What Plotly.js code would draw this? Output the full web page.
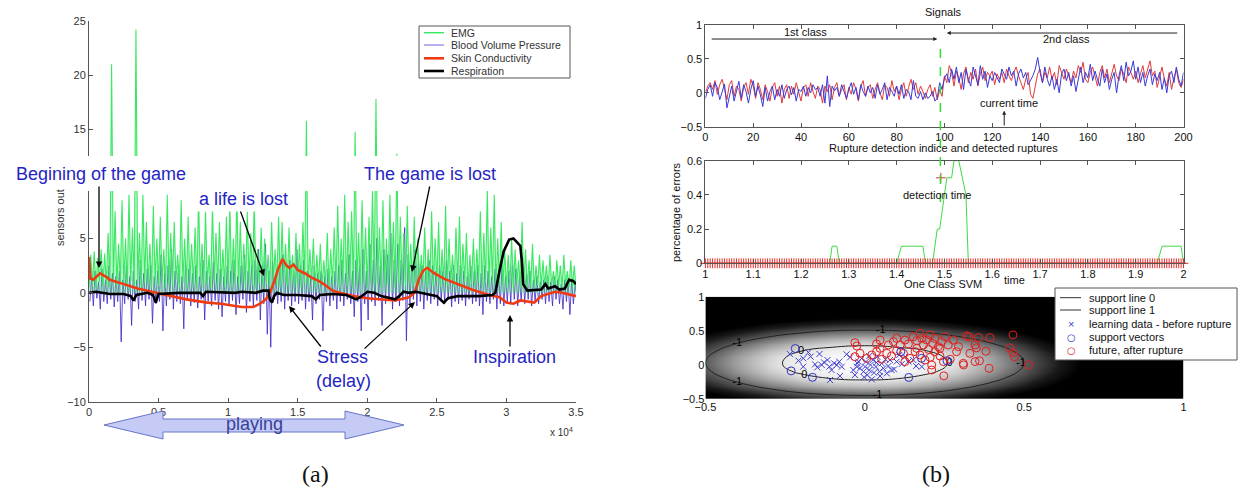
<!DOCTYPE html>
<html>
<head>
<meta charset="utf-8">
<script src="https://cdn.plot.ly/plotly-3.0.1.min.js"></script>
<style>html,body{margin:0;padding:0;background:#fff;}#chart{width:1243px;height:491px;}</style>
</head>
<body>
<div id="chart"></div>
<script>
// ---------------- (a) physiological sensors ----------------
const emgStart = 0, emgStep = 125;
const emgValues = [
0.5,3.5,0.8,3.8,0.4,3.2,1.0,4.0,0.6,3.6,0.8,5.5,0.5,21.0,0.9,7.5,0.6,4.5,1.0,8.5,
0.7,5.0,0.5,9.0,1.1,6.0,0.6,24.2,0.8,5.5,0.4,9.0,1.0,6.5,0.7,4.5,0.5,8.0,0.9,5.0,
0.6,7.0,1.0,4.0,0.5,9.0,0.8,5.5,0.6,6.5,1.2,3.5,0.5,8.5,0.9,5.0,0.4,7.0,1.0,4.5,
0.7,6.0,0.5,9.0,1.0,4.5,0.6,7.5,0.8,3.5,0.5,8.0,1.1,5.5,0.6,6.5,0.9,4.0,0.5,7.0,
0.8,8.0,0.5,5.0,1.0,9.0,0.6,6.5,0.9,4.5,0.5,7.5,1.0,5.5,0.7,8.5,0.4,4.0,0.9,6.0,
0.6,5.0,0.9,3.5,0.5,6.5,1.0,4.0,0.7,7.0,0.5,6.5,1.0,4.5,0.6,6.0,0.9,3.5,0.5,5.5,
0.8,4.5,0.5,6.5,0.9,15.8,0.6,4.0,1.0,5.0,0.5,3.5,0.8,4.5,0.6,3.0,0.9,5.5,0.5,4.0,
0.7,6.0,1.0,8.0,0.5,5.0,0.9,9.0,0.6,6.5,1.0,7.5,0.5,14.8,0.8,5.5,0.6,8.5,1.0,6.0,
0.5,7.0,0.9,9.5,0.6,17.8,1.0,6.0,0.5,8.5,0.8,5.0,0.6,9.0,1.0,6.5,0.5,12.8,0.9,7.0,
0.8,5.5,0.6,8.0,1.0,4.5,0.5,7.0,0.9,5.0,0.6,3.5,1.0,6.0,0.5,4.0,0.8,7.5,0.6,5.0,
1.0,6.5,0.5,4.0,0.8,8.0,0.6,5.0,1.0,3.5,0.5,6.0,0.9,7.0,0.6,4.5,1.0,5.5,0.5,3.5,
0.8,5.0,0.6,4.0,1.0,7.5,0.5,5.5,0.9,9.5,0.6,6.0,1.0,9.0,0.5,5.0,0.8,6.5,0.6,4.0,
0.5,3.5,0.8,5.0,0.4,4.0,0.9,3.0,0.5,6.5,0.8,4.0,0.5,3.0,0.6,4.5,0.4,2.5,0.7,3.5,
0.5,3.0,0.6,2.5,0.4,3.5,0.7,2.0,0.5,3.0,0.6,2.5,0.4,3.5,0.7,2.0,0.5,3.0,0.6,2.5,
0.5];
const bvpStart = 62.5, bvpStep = 125;
const bvpValues = [
-0.8,1.5,-1.2,2.0,-0.5,1.0,-1.5,2.2,-0.8,1.2,-1.0,2.5,-0.6,1.8,-1.3,1.5,-0.8,2.0,-4.5,1.2,
-1.0,2.5,-0.6,1.5,-3.0,2.0,-0.8,1.2,-1.5,3.0,-0.7,1.8,-1.2,2.2,-0.6,2.5,-2.8,1.5,-1.0,2.0,
-0.8,3.5,-3.5,1.8,-1.2,2.5,-0.6,4.0,-1.5,2.0,-0.8,2.5,-1.0,1.5,-3.3,3.0,-0.7,2.2,-1.2,1.8,
-0.9,2.5,-1.4,1.5,-0.6,3.0,-2.5,2.0,-0.8,1.5,-1.2,2.8,-0.7,1.8,-1.5,2.2,-2.2,1.5,-0.8,2.5,
-1.2,2.0,-0.7,3.0,-2.0,1.5,-1.0,2.5,-0.6,3.5,-1.8,2.0,-0.8,2.5,-1.3,3.0,-0.7,4.0,-2.5,2.5,
-1.0,4.5,-3.8,2.0,-5.0,3.0,-0.6,1.5,-1.0,2.0,-0.8,3.5,-1.5,2.5,-0.7,3.0,-1.2,2.0,-0.8,4.0,
-1.0,2.5,-0.7,3.0,-1.5,2.0,-0.8,1.5,-2.5,2.5,-1.0,1.8,-0.6,2.0,-3.5,1.5,-0.8,2.2,-1.2,1.5,
-0.7,2.0,-1.5,2.5,-0.8,3.0,-1.2,1.8,-0.6,3.5,-1.0,2.0,-2.2,3.0,-0.8,2.5,-3.5,4.0,-1.0,2.0,
-2.5,4.5,-0.8,3.0,-1.2,5.0,-0.7,2.5,-3.0,4.0,-1.0,3.5,-0.6,5.5,-1.5,3.0,-0.8,4.5,-1.2,3.0,
-0.7,6.0,-4.4,3.5,-1.0,2.5,-0.6,4.0,-1.2,3.0,-0.8,2.5,-1.5,2.0,-0.7,3.0,-1.0,2.5,-0.6,2.0,
-1.2,2.5,-0.7,2.0,-1.0,3.0,-0.6,2.0,-1.3,2.5,-0.8,1.8,-1.0,2.5,-0.7,2.0,-1.2,1.5,-0.6,2.5,
-1.0,2.0,-0.8,2.5,-1.2,1.8,-2.0,2.5,-0.8,2.0,-1.0,1.5,-0.6,2.2,-1.5,1.8,-1.0,2.5,-1.2,1.5,
-0.8,2.0,-1.0,3.0,-0.6,2.2,-1.2,1.5,-0.8,2.5,-1.0,1.8,-0.6,2.0,-1.2,1.2,-0.8,1.5,-1.0,1.0,
-0.6,1.2,-1.0,1.5,-0.8,1.0,-1.2,1.5,-0.6,1.2,-1.0,0.8,-1.5,1.2,-0.8,1.0,-2.0,1.2,-1.0,0.8,
-0.5];
const scTime = [0,100,300,800,1200,1500,2500,3500,4500,5500,7000,8500,9500,10500,11000,11800,12300,12700,13000,13300,13600,13900,14200,14400,14700,15000,15500,16000,16500,17000,17500,18000,19000,20000,21000,22000,23000,23400,23700,24000,24300,24800,25500,26500,27500,28500,29500,30000,30500,31000,31500,32000,32500,33000,33500,34000,35000];
const scValues = [3.3,1.3,1.2,1.8,1.5,1.2,0.8,0.4,0.1,-0.2,-0.6,-0.9,-1.0,-1.2,-1.3,-1.3,-1.0,-0.6,0.0,1.0,2.2,3.1,2.5,2.3,2.6,2.1,1.8,1.4,1.1,0.7,0.2,0.0,-0.3,-0.5,-0.6,-0.7,-0.4,0.0,1.2,2.0,2.3,1.8,1.3,0.8,0.3,-0.1,-0.4,-0.9,-1.0,-0.7,-0.8,-0.9,-0.3,-0.1,0.1,0.0,-0.3];
const respTime = [0,500,1500,2500,3000,3200,3400,4200,4600,4800,5000,6500,8000,8200,8400,10500,11000,12000,12500,12900,13000,13150,13300,13500,14000,15000,16000,16300,16600,17500,18500,19200,19500,20000,20500,21000,22000,22300,22600,23000,23500,24500,25000,25500,25800,26500,28000,29000,29200,29500,29800,30200,30500,30800,31000,31100,31200,31500,32500,32800,33000,33500,33800,34200,34500,34800,35000];
const respValues = [0,0.1,-0.1,-0.1,-0.3,-0.7,-0.2,0,-0.2,-0.9,-0.1,0,0,-0.3,0.1,0,0.1,0,0.2,0.2,-0.6,-0.9,-0.3,0,-0.2,-0.2,-0.3,-0.6,-0.2,-0.1,-0.2,-0.6,-0.4,0.1,0,-0.3,-0.6,-0.3,0.1,0,0.1,-0.2,-0.3,-0.9,-0.5,-0.3,-0.3,-0.2,0,2.0,3.8,4.9,5.0,4.6,4.3,3.0,0.8,0.2,0.3,0.8,0.4,0.6,0.3,0.4,1.2,1.1,0.8];
const aXTicks = [0,5000,10000,15000,20000,25000,30000,35000];
const aXTickText = ['0','0.5','1','1.5','2','2.5','3','3.5'];
const aYTicks = [-10,-5,0,5,15,20,25];
const aLegend = ['EMG','Blood Volume Pressure','Skin Conductivity','Respiration'];

// ---------------- (b) top: signals ----------------
const sigBlue = [
-0.08,0.05,0.12,-0.05,0.15,0.08,-0.1,0.02,0.13,-0.22,
-0.05,0.1,-0.12,0.05,0.17,-0.08,0.12,0.02,-0.15,0.05,
0.18,-0.05,0.1,-0.03,-0.2,0.08,-0.12,0.02,0.1,-0.1,
0.05,-0.05,0.12,-0.08,0.05,0.1,-0.03,0.08,-0.12,0.05,
0.02,0.1,-0.05,0.08,0.0,0.12,0.05,0.08,-0.05,0.12,
-0.15,0.25,-0.2,0.1,0.03,0.08,-0.05,0.12,0.02,-0.08,
0.05,0.15,-0.02,0.08,-0.1,0.12,0.02,-0.05,0.1,0.0,
0.08,-0.08,0.12,-0.02,0.05,0.15,-0.1,0.08,0.02,-0.05,
0.1,-0.02,0.12,-0.08,0.05,0.02,-0.1,0.18,-0.05,-0.08,
0.02,-0.1,0.0,-0.08,-0.05,0.02,-0.12,-0.08,0.15,0.05,
0.22,0.28,0.15,0.35,0.2,0.38,0.15,0.3,0.05,0.35,
0.2,0.1,0.38,0.25,0.12,0.4,0.2,0.32,0.08,0.25,
0.18,0.3,0.22,0.15,0.35,0.28,0.2,0.38,0.25,0.32,
0.1,0.28,0.35,0.22,0.3,0.12,0.18,0.25,0.35,0.52,
0.3,0.15,0.38,0.2,0.1,0.25,0.05,0.2,0.0,0.28,
0.35,0.18,0.3,0.1,0.25,0.02,0.2,0.38,0.15,0.3,
0.22,0.42,0.18,0.32,0.2,0.1,0.35,0.15,0.28,0.05,
0.2,0.3,0.0,0.25,0.4,0.18,0.45,0.25,0.32,0.47,
0.2,0.38,0.15,0.3,0.1,0.25,0.35,0.12,0.28,0.18,
0.3,0.05,0.22,0.0,0.25,0.32,0.15,0.38,0.2,0.1,
0.3];
const sigRed = [
0.0,0.1,0.15,0.05,0.18,-0.02,0.12,0.2,0.05,-0.1,
0.12,0.18,-0.05,0.1,0.05,-0.12,0.08,0.15,-0.02,0.2,
0.1,-0.08,0.15,0.05,-0.1,0.12,0.02,-0.12,0.08,0.15,
-0.05,0.1,-0.15,0.05,0.12,-0.08,0.1,-0.02,0.15,0.0,
-0.12,0.08,0.12,-0.05,0.15,0.02,-0.08,0.1,0.05,-0.15,
0.1,0.02,0.12,-0.1,0.08,0.15,-0.05,0.05,0.12,-0.1,
0.08,-0.02,0.15,0.05,-0.12,0.1,0.18,-0.05,0.08,0.12,
-0.08,0.05,0.15,0.0,-0.1,0.12,0.08,-0.05,0.18,0.02,
0.1,-0.1,0.05,0.15,-0.05,0.08,0.2,0.05,0.15,-0.02,
0.1,0.02,-0.08,0.05,0.12,-0.05,0.08,-0.1,0.05,-0.05,
0.25,0.15,0.4,0.3,0.1,0.32,0.22,0.05,0.28,0.38,
0.15,0.3,0.2,0.35,0.1,0.28,0.38,0.18,0.3,0.25,
0.32,0.12,0.28,0.2,0.3,0.15,0.35,0.25,0.18,0.3,
0.38,0.25,0.15,0.05,0.2,0.3,-0.02,-0.08,0.1,0.28,
0.35,0.15,0.3,0.22,0.38,0.2,0.3,0.12,0.4,0.3,
0.2,0.35,0.25,0.15,0.32,0.22,0.4,0.3,0.45,0.2,
0.15,0.3,0.38,0.25,0.1,0.3,0.4,0.22,0.35,0.15,
0.3,0.42,0.25,0.18,0.35,0.28,0.15,0.38,0.3,0.2,
0.32,0.15,0.28,0.4,0.22,0.35,0.47,0.25,0.32,0.08,
0.25,0.38,0.2,0.1,0.3,0.05,0.22,0.35,0.15,0.08,
0.2];
const ruptureIndex = 98.3;

// ---------------- (b) middle: rupture detection ----------------
const errTime = [1,1.26,1.265,1.275,1.28,1.40,1.41,1.455,1.46,1.475,1.485,1.49,1.50,1.505,1.515,1.52,1.53,1.545,1.55,1.945,1.955,1.995,2.0];
const errValues = [0,0,0.1,0.1,0,0,0.1,0.1,0,0,0.2,0.2,0.4,0.5,0.5,0.6,0.6,0.4,0,0,0.1,0.1,0];
const ruptStart = 1, ruptStep = 0.005;
const ruptFlags = [0,0,0,0,0,0,0,0,0,0,0,0,0,0,0,0,0,0,0,0,0,0,0,0,0,0,0,0,0,0,0,0,0,0,0,0,0,0,0,0,0,0,0,0,0,0,0,0,0,0,0,0,0,0,0,0,0,0,0,0,0,0,0,0,0,0,0,0,0,0,0,0,0,0,0,0,0,0,0,0,0,0,0,0,0,0,0,0,0,0,0,0,0,0,0,0,0,0,0,0,0,0,0,0,0,0,0,0,0,0,0,0,0,0,0,0,0,0,0,0,0,0,0,0,0,0,0,0,0,0,0,0,0,0,0,0,0,0,0,0,0,0,0,0,0,0,0,0,0,0,0,0,0,0,0,0,0,0,0,0,0,0,0,0,0,0,0,0,0,0,0,0,0,0,0,0,0,0,0,0,0,0,0,0,0,0,0,0,0,0,0,0,0,0,0,0,0,0,0,0,0];
const detTime = [1.4925], detValue = [0.5];

// ---------------- (b) bottom: one class SVM ----------------
const svmGridX = [-0.5,-0.4,-0.3,-0.2,-0.1,0,0.1,0.2,0.3,0.4,0.5,0.6,0.7,0.8,0.9,1.0];
const svmGridY = [-0.5,-0.4,-0.3,-0.2,-0.1,0,0.1,0.2,0.3,0.4,0.5,0.6,0.7,0.8,0.9,1.0];
const svmZ = [
[-2.69,-2.19,-1.80,-1.52,-1.36,-1.30,-1.36,-1.52,-1.80,-2.19,-2.69,-3.30,-4,-4,-4,-4],
[-2.12,-1.62,-1.23,-0.95,-0.78,-0.73,-0.78,-0.95,-1.23,-1.62,-2.12,-2.73,-3.45,-4,-4,-4],
[-1.66,-1.16,-0.77,-0.49,-0.32,-0.27,-0.32,-0.49,-0.77,-1.16,-1.66,-2.27,-2.99,-3.83,-4,-4],
[-1.32,-0.82,-0.43,-0.15,0.01,0.07,0.01,-0.15,-0.43,-0.82,-1.32,-1.93,-2.65,-3.49,-4,-4],
[-1.10,-0.60,-0.21,0.07,0.23,0.29,0.23,0.07,-0.21,-0.60,-1.10,-1.71,-2.43,-3.27,-4,-4],
[-1.01,-0.51,-0.12,0.16,0.32,0.38,0.32,0.16,-0.12,-0.51,-1.01,-1.62,-2.34,-3.18,-4,-4],
[-1.03,-0.53,-0.14,0.14,0.30,0.36,0.30,0.14,-0.14,-0.53,-1.03,-1.64,-2.36,-3.20,-4,-4],
[-1.17,-0.67,-0.28,0.00,0.16,0.22,0.16,0.00,-0.28,-0.67,-1.17,-1.78,-2.50,-3.34,-4,-4],
[-1.44,-0.94,-0.55,-0.27,-0.11,-0.05,-0.11,-0.27,-0.55,-0.94,-1.44,-2.05,-2.77,-3.61,-4,-4],
[-1.83,-1.33,-0.94,-0.66,-0.50,-0.44,-0.50,-0.66,-0.94,-1.33,-1.83,-2.44,-3.16,-4,-4,-4],
[-2.33,-1.83,-1.44,-1.16,-0.99,-0.94,-0.99,-1.16,-1.44,-1.83,-2.33,-2.94,-3.66,-4,-4,-4],
[-2.96,-2.46,-2.07,-1.79,-1.62,-1.57,-1.62,-1.79,-2.07,-2.46,-2.96,-3.57,-4,-4,-4,-4],
[-3.71,-3.21,-2.82,-2.54,-2.37,-2.32,-2.37,-2.54,-2.82,-3.21,-3.71,-4,-4,-4,-4,-4],
[-4,-4,-3.69,-3.41,-3.24,-3.19,-3.24,-3.41,-3.69,-4,-4,-4,-4,-4,-4,-4],
[-4,-4,-4,-4,-4,-4,-4,-4,-4,-4,-4,-4,-4,-4,-4,-4],
[-4,-4,-4,-4,-4,-4,-4,-4,-4,-4,-4,-4,-4,-4,-4,-4]];
// contour level labels: [x, y, text]
const svmLabelX = [-0.40,-0.40,0.05,0.04,0.49,-0.19,-0.20,0.266];
const svmLabelY = [0.318,-0.258,0.508,-0.448,0.03,-0.147,0.207,0.03];
const svmLabelText = ['-1','-1','-1','-1','-1','0','0','0'];
const learnX = [-0.235,-0.208,-0.193,-0.177,-0.170,-0.156,-0.142,-0.135,-0.128,-0.117,-0.111,-0.104,-0.096,-0.088,-0.080,-0.072,-0.057,-0.046,-0.036,-0.031,-0.023,-0.015,-0.010,-0.004,0.001,0.004,0.008,0.014,0.018,0.025,0.029,0.035,0.039,0.046,0.053,0.058,0.065,0.069,0.074,0.084,0.092,0.100,0.108,0.116,0.127,0.137,0.152,0.161,0.179,-0.109,-0.078,-0.149,-0.193,-0.020,-0.002,0.022,0.048,0.079,0.014,0.037,-0.025];
const learnY = [0.160,0.062,0.096,0.184,0.121,0.008,0.160,-0.001,0.038,0.072,-0.026,-0.075,0.023,-0.001,0.048,-0.026,0.155,0.111,-0.075,-0.148,0.023,-0.050,0.096,-0.099,-0.026,0.048,-0.148,-0.075,-0.001,0.072,-0.114,-0.026,0.121,-0.099,0.023,-0.050,0.082,-0.124,-0.016,-0.075,-0.065,0.048,0.145,0.013,0.121,0.048,0.072,-0.016,-0.026,-0.221,-0.163,-0.036,-0.026,0.048,-0.182,-0.212,-0.163,0.072,0.131,0.033,-0.026];
const svX = [-0.218,-0.231,-0.164,0.138,0.258,0.113,0.178];
const svY = [0.240,-0.088,-0.182,-0.184,0.060,0.192,0.096];
const futureX = [-0.031,-0.025,0.037,0.048,0.074,0.090,0.100,0.111,0.126,0.137,0.152,0.163,0.173,0.179,0.184,0.194,0.205,0.213,0.220,0.231,0.241,0.252,0.262,0.278,0.294,0.320,0.346,-0.031,-0.015,0.006,0.022,0.037,0.053,0.069,0.084,0.100,0.121,0.126,0.142,0.158,0.173,0.189,0.205,0.210,0.220,0.236,0.247,0.268,0.309,0.346,0.210,0.288,0.330,0.048,0.163,0.200,0.236,0.327,0.357,0.393,0.465,0.455,0.465,0.470,0.514,0.350,0.380,0.310,0.360,0.390,0.248];
const futureY = [0.326,0.277,0.307,0.365,0.292,0.341,0.390,0.292,0.365,0.307,0.414,0.355,0.463,0.390,0.292,0.365,0.439,0.316,0.390,0.267,0.341,0.414,0.292,0.365,0.267,0.424,0.292,0.121,0.170,0.096,0.145,0.194,0.082,0.170,0.131,0.209,0.170,0.048,0.096,0.194,0.145,0.072,0.111,-0.001,0.194,0.131,0.048,0.082,0.023,0.048,-0.075,0.194,0.170,0.243,0.243,0.228,0.243,0.410,0.400,0.400,0.440,0.250,0.180,0.120,0.000,0.250,0.200,0.000,0.060,-0.050,-0.160];
const bLegend = ['support line 0','support line 1','learning data - before rupture','support vectors','future, after rupture'];

// ---------------- layout helpers ----------------
const W = 1243, H = 491;
const px = x => x / W;
const py = y => 1 - y / H;
const FONT = 'Liberation Sans, Arial, Helvetica, sans-serif';
const BLUE_TXT = '#2424c4';

const traces = [
  {type:'scatter', mode:'lines', name:aLegend[1], x0:bvpStart, dx:bvpStep, y:bvpValues, xaxis:'x', yaxis:'y', line:{color:'#3b26c4', width:0.8}},
  {type:'scatter', mode:'lines', name:aLegend[0], x0:emgStart, dx:emgStep, y:emgValues, xaxis:'x', yaxis:'y', line:{color:'#3be863', width:1.1}, fill:'tozeroy', fillcolor:'rgba(70,232,110,0.35)'},
  {type:'scatter', mode:'lines', name:aLegend[2], x:scTime, y:scValues, xaxis:'x', yaxis:'y', line:{color:'#f03a12', width:2.6}},
  {type:'scatter', mode:'lines', name:aLegend[3], x:respTime, y:respValues, xaxis:'x', yaxis:'y', line:{color:'#000000', width:2.6}},

  {type:'scatter', mode:'lines', name:'signal 2', y:sigRed, xaxis:'x2', yaxis:'y2', line:{color:'#e03a3a', width:1}},
  {type:'scatter', mode:'lines', name:'signal 1', y:sigBlue, xaxis:'x2', yaxis:'y2', line:{color:'#3a3ad8', width:1}},

  {type:'scatter', mode:'lines', name:'percentage of errors', x:errTime, y:errValues, xaxis:'x3', yaxis:'y3', line:{color:'#44d844', width:1}, cliponaxis:false},
  {type:'scatter', mode:'markers', name:'detected ruptures', x0:ruptStart, dx:ruptStep, y:ruptFlags, xaxis:'x3', yaxis:'y3', cliponaxis:false,
    marker:{symbol:'cross-thin', size:7, color:'#e03030', line:{color:'#e03030', width:1}}},
  {type:'scatter', mode:'markers', name:'detection', x:detTime, y:detValue, xaxis:'x3', yaxis:'y3',
    marker:{symbol:'cross-thin', size:7, color:'#e03030', line:{color:'#e03030', width:1}}},

  {type:'contour', x:svmGridX, y:svmGridY, z:svmZ, xaxis:'x4', yaxis:'y4', showscale:false,
    zmin:-2.2, zmax:0.4,
    colorscale:[[0,'#000000'],[0.2,'#1a1a1a'],[0.46,'#5e5e5e'],[0.7,'#b4b4b4'],[0.85,'#e8e8e8'],[1,'#ffffff']],
    contours:{start:-1, end:0, size:1, coloring:'heatmap', showlabels:false},
    line:{color:'#222', width:1, smoothing:1.3}, hoverinfo:'skip'},
  {type:'scatter', mode:'text', name:'levels', x:svmLabelX, y:svmLabelY, text:svmLabelText, xaxis:'x4', yaxis:'y4',
    textfont:{family:FONT, size:11, color:'#000'}, textposition:'middle center'},
  {type:'scatter', mode:'markers', name:bLegend[2], x:learnX, y:learnY, xaxis:'x4', yaxis:'y4',
    marker:{symbol:'x-thin-open', size:6, color:'#4040d0', line:{color:'#4040d0', width:1}}},
  {type:'scatter', mode:'markers', name:bLegend[4], x:futureX, y:futureY, xaxis:'x4', yaxis:'y4',
    marker:{symbol:'circle-open', size:8, color:'#e02020', line:{color:'#e02020', width:1}}},
  {type:'scatter', mode:'markers', name:bLegend[3], x:svX, y:svY, xaxis:'x4', yaxis:'y4',
    marker:{symbol:'circle-open', size:8, color:'#3030c0', line:{color:'#3030c0', width:1}}}
];

const rightX = [px(705.4), px(1183.5)];
const tickFont = {family:FONT, size:11, color:'#111'};
const boxAxis = {showline:true, linecolor:'#555', linewidth:1, mirror:'ticks', ticks:'inside', ticklen:4, tickcolor:'#555', showgrid:false, zeroline:false, tickfont:tickFont};

const layout = {
  width:W, height:H, margin:{l:0,r:0,t:0,b:0}, paper_bgcolor:'#fff', plot_bgcolor:'#fff', showlegend:false,
  font:{family:FONT, size:11, color:'#111'},
  xaxis:{domain:[px(89), px(576)], range:[0,35000], tickvals:aXTicks, ticktext:aXTickText, showline:true, linecolor:'#555', ticks:'inside', ticklen:4, tickcolor:'#555', showgrid:false, zeroline:false, tickfont:{family:FONT, size:11, color:'#333'}},
  yaxis:{domain:[py(401.7), py(20.7)], range:[-10,25], tickvals:aYTicks, showline:true, linecolor:'#555', ticks:'inside', ticklen:4, tickcolor:'#555', showgrid:false, zeroline:false, tickfont:{family:FONT, size:11, color:'#333'}},

  xaxis2:Object.assign({domain:rightX, range:[0,200], dtick:20, anchor:'y2'}, boxAxis),
  yaxis2:Object.assign({domain:[py(127), py(24.7)], range:[-0.5,1], tickvals:[-0.5,0,0.5,1], anchor:'x2'}, boxAxis),
  xaxis3:Object.assign({domain:rightX, range:[1,2], dtick:0.1, anchor:'y3'}, boxAxis),
  yaxis3:Object.assign({domain:[py(263.3), py(160.7)], range:[0,0.6], tickvals:[0,0.2,0.4,0.6], anchor:'x3'}, boxAxis),
  xaxis4:{domain:rightX, range:[-0.5,1], tickvals:[-0.5,0,0.5,1], anchor:'y4', showline:false, showgrid:false, zeroline:false, ticks:'', tickfont:tickFont},
  yaxis4:{domain:[py(399), py(296.7)], range:[-0.5,1], tickvals:[-0.5,0,0.5,1], anchor:'x4', showline:false, showgrid:false, zeroline:false, ticks:'', tickfont:tickFont},
  shapes:[], annotations:[]
};

const S = layout.shapes, A = layout.annotations;
const T = (x,y,t,f,extra)=>A.push(Object.assign({xref:'paper', yref:'paper', x:px(x), y:py(y), text:t, showarrow:false, xanchor:'center', yanchor:'middle', font:f}, extra||{}));
const AR = (hx,hy,tx,ty)=>A.push({xref:'paper', yref:'paper', x:px(hx), y:py(hy), ax:tx-hx, ay:ty-hy, text:'', showarrow:true, arrowhead:2, arrowsize:1, arrowwidth:1.3, arrowcolor:'#000'});

// white band behind the big labels of (a)
S.push({type:'rect', xref:'paper', yref:'paper', x0:0, x1:px(580), y0:py(191), y1:py(156), fillcolor:'#fff', line:{width:0}, layer:'above'});
// legend (a)
S.push({type:'rect', xref:'paper', yref:'paper', x0:px(419), x1:px(570), y0:py(78), y1:py(26), fillcolor:'#fff', line:{color:'#555', width:1}, layer:'above'});
const aLegCol = ['#3be863','#7a5ad8','#f03a12','#000'], aLegW = [1.5,1,2.6,2.6], aLegY = [32.7,45,58.3,71];
aLegend.forEach((t,i)=>{
  S.push({type:'line', xref:'paper', yref:'paper', x0:px(424), x1:px(444), y0:py(aLegY[i]), y1:py(aLegY[i]), line:{color:aLegCol[i], width:aLegW[i]}, layer:'above'});
  T(449, aLegY[i], t, {family:FONT, size:10.5, color:'#333'}, {xanchor:'left'});
});
// playing double arrow
const pp = (x,y)=>px(x)+','+py(y);
S.push({type:'path', xref:'paper', yref:'paper', layer:'above',
  path:'M'+pp(104,425)+' L'+pp(163,411)+' L'+pp(163,419)+' L'+pp(345,419)+' L'+pp(345,411)+' L'+pp(404,425)+' L'+pp(345,439)+' L'+pp(345,432)+' L'+pp(163,432)+' L'+pp(163,439)+' Z',
  fillcolor:'#c6cbf6', line:{color:'#6676c8', width:1}});
// rupture dashed line across (b) top & middle
S.push({type:'line', xref:'x2', yref:'paper', x0:ruptureIndex, x1:ruptureIndex, y0:py(202), y1:py(47), line:{color:'#33dd33', width:1.5, dash:'dash'}, layer:'above'});
// legend (b)
S.push({type:'rect', xref:'paper', yref:'paper', x0:px(1055), x1:px(1237), y0:py(360), y1:py(288), fillcolor:'#fff', line:{color:'#555', width:1}, layer:'above'});
const bLegY = [297.7,310,323.5,337,350];
[0,1].forEach(i=>S.push({type:'line', xref:'paper', yref:'paper', x0:px(1060), x1:px(1081), y0:py(bLegY[i]), y1:py(bLegY[i]), line:{color:'#333', width:1}, layer:'above'}));
T(1071, bLegY[2], '×', {family:FONT, size:11, color:'#4040d0'});
T(1071, bLegY[3], '○', {family:'DejaVu Sans', size:10, color:'#3030c0'});
T(1071, bLegY[4], '○', {family:'DejaVu Sans', size:10, color:'#e02020'});
bLegend.forEach((t,i)=>T(1087, bLegY[i], t, {family:FONT, size:11, color:'#111'}, {xanchor:'left'}));

// (a) texts and arrows
const big = {family:FONT, size:18, color:BLUE_TXT};
T(101,174,'Begining of the game',big);
T(243,199,'a life is lost',big,{bgcolor:'#fff', borderpad:2});
T(430,174,'The game is lost',big);
T(342,357,'Stress',big);
T(343,381,'(delay)',big);
T(514,357,'Inspiration',big);
AR(99,268,99,185);
AR(264,276,240,210);
AR(412,272,430,185);
AR(289,306,322,348);
AR(415,302,363,350);
AR(510,315,510,348);
T(254,424,'playing',{family:FONT, size:18, color:'#36409a'});
T(561,432,'x 10<sup>4</sup>',{family:FONT, size:10, color:'#333'});
T(60,218,'sensors out',{family:FONT, size:11, color:'#333'},{textangle:-90});
T(315,474,'(a)',{family:'Liberation Serif, DejaVu Serif, serif', size:24, color:'#111'});
T(936,474,'(b)',{family:'Liberation Serif, DejaVu Serif, serif', size:24, color:'#111'});

// (b) titles and labels
const sm = {family:FONT, size:11, color:'#111'};
T(943,12,'Signals',sm);
T(943,148,'Rupture detection indice and detected ruptures',sm);
T(943,284,'One Class SVM',sm);
T(1014,280,'time',sm);
T(676,212,'percentage of errors',sm,{textangle:-90});
// top annotations (data coords)
A.push({xref:'x2', yref:'y2', x:42, y:0.9, text:'1st class', showarrow:false, xanchor:'center', yanchor:'middle', font:sm});
A.push({xref:'x2', yref:'y2', x:151, y:0.79, text:'2nd class', showarrow:false, xanchor:'center', yanchor:'middle', font:sm});
A.push({xref:'x2', yref:'y2', x:97, y:0.79, axref:'x2', ayref:'y2', ax:2, ay:0.79, text:'', showarrow:true, arrowhead:2, arrowsize:0.8, arrowwidth:1, arrowcolor:'#222'});
A.push({xref:'x2', yref:'y2', x:101, y:0.878, axref:'x2', ayref:'y2', ax:198, ay:0.878, text:'', showarrow:true, arrowhead:2, arrowsize:0.8, arrowwidth:1, arrowcolor:'#222'});
A.push({xref:'x2', yref:'y2', x:127, y:-0.15, text:'current time', showarrow:false, xanchor:'center', yanchor:'middle', font:sm});
A.push({xref:'x2', yref:'y2', x:125, y:-0.26, axref:'x2', ayref:'y2', ax:125, ay:-0.5, text:'', showarrow:true, arrowhead:2, arrowsize:0.8, arrowwidth:1, arrowcolor:'#222'});
A.push({xref:'x3', yref:'y3', x:1.485, y:0.4, text:'detection time', showarrow:false, xanchor:'center', yanchor:'middle', font:sm});

Plotly.newPlot('chart', traces, layout, {displayModeBar:false, staticPlot:true});
</script>
</body>
</html>
